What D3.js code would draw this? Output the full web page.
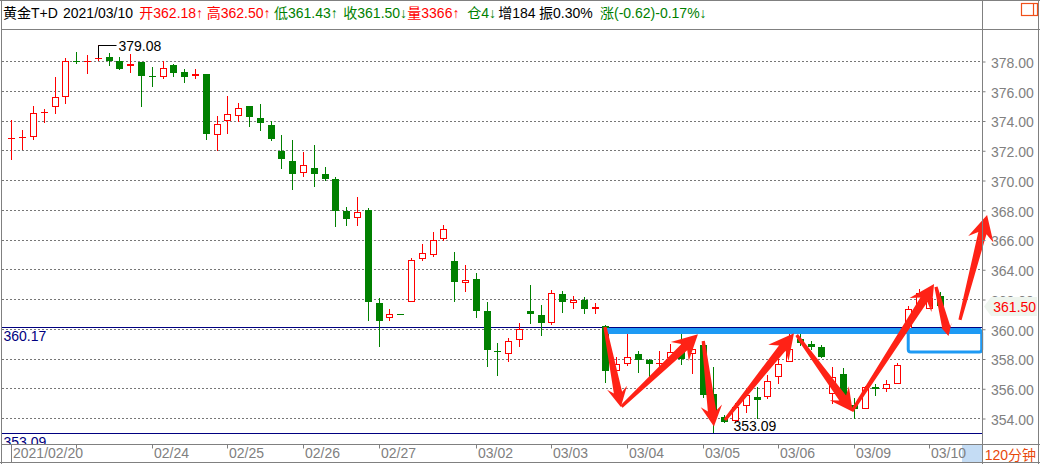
<!DOCTYPE html>
<html><head><meta charset="utf-8">
<script src="https://cdn.jsdelivr.net/npm/d3@7"></script>
<style>
body{margin:0;background:#fff;}
svg{display:block;}
text{font-family:"Liberation Sans",Arial,"Noto Sans CJK SC",sans-serif;font-size:14px;}
</style>
</head><body>
<svg id="c" width="1040" height="464"></svg>
<script>
// ---------------- data ----------------
const opens  = [372.80,372.86,372.90,374.58,374.92,375.60,378.03,378.01,378.11,378.25,
                378.00,377.64,377.93,377.00,376.94,377.73,377.26,376.97,377.12,373.00,
                373.94,374.32,374.95,374.14,373.69,371.94,371.27,370.44,370.79,370.39,
                370.05,367.90,367.47,367.97,361.75,360.74,361.01,361.82,364.71,364.98,
                366.06,364.53,363.10,363.32,361.17,358.50,358.31,359.26,361.17,360.90,
                360.40,362.31,361.75,361.91,361.35,360.17,357.16,357.60,358.28,357.88,
                357.66,358.01,358.50,358.28,358.91,355.60,354.04,353.80,354.81,355.41,
                355.39,356.73,357.79,359.29,359.00,358.75,355.61,356.96,354.85,354.63,
                356.10,355.97,356.27,360.00,361.40,361.33,362.18];
const highs  = [374.03,373.35,374.97,374.75,376.94,378.18,378.60,378.40,379.08,378.52,
                378.25,378.47,377.93,377.62,378.00,377.82,377.46,377.44,377.12,374.30,
                375.64,375.17,374.95,375.10,373.96,373.02,372.68,371.87,372.34,370.86,
                370.23,368.17,368.84,368.10,362.04,361.35,361.01,364.73,365.68,366.48,
                366.96,365.14,364.26,363.72,361.77,359.01,359.41,360.40,362.92,361.57,
                362.63,362.56,362.17,362.11,361.70,360.22,358.10,359.70,358.50,357.95,
                358.50,358.98,359.70,358.90,359.20,357.40,354.18,354.99,355.88,356.10,
                356.91,357.95,359.70,359.65,359.20,358.90,357.40,357.38,355.34,356.13,
                356.27,356.55,357.68,361.53,362.70,362.27,362.50];
const lows   = [371.38,372.09,372.77,373.91,374.52,375.15,377.85,377.17,378.08,377.75,
                377.48,377.28,374.97,376.34,376.88,377.01,376.61,376.88,372.77,372.05,
                373.17,373.94,373.64,373.37,372.68,370.81,369.40,370.28,369.60,370.03,
                366.91,366.98,366.98,360.56,358.83,360.59,361.00,361.82,364.65,364.92,
                365.95,361.89,362.53,360.78,357.48,356.88,357.82,358.83,360.38,359.57,
                360.33,361.12,361.41,361.05,361.05,356.40,356.90,357.55,357.10,356.66,
                357.10,357.90,357.60,357.00,355.39,353.09,353.70,353.75,354.38,354.02,
                355.32,356.33,357.79,358.90,358.66,358.12,355.03,354.87,354.02,354.59,
                355.57,355.80,356.27,358.60,361.30,361.30,361.43];
const closes = [372.82,372.88,374.48,374.60,375.60,378.00,378.01,378.03,378.22,378.00,
                377.48,377.80,377.01,376.98,377.51,377.17,376.94,377.10,373.10,373.74,
                374.41,374.81,374.25,373.80,372.77,371.42,370.41,370.98,370.41,370.07,
                367.92,367.38,367.88,361.79,360.51,361.01,361.00,364.65,365.12,365.99,
                366.73,363.14,363.30,361.19,358.56,358.48,359.19,360.00,360.99,360.38,
                362.42,361.79,361.95,361.32,361.48,357.15,357.60,358.10,357.93,357.60,
                357.70,358.42,357.97,358.62,355.57,354.40,353.73,354.72,355.53,355.19,
                356.51,357.61,358.66,359.06,358.79,358.12,356.78,355.10,354.59,356.06,
                355.97,356.27,357.56,361.30,362.40,362.07,361.50];

const dateTickIdx    = [0, 13, 20, 27, 34, 43, 50, 57, 64, 71, 78, 85];
const dateTickLabels = ["2021/02/20","02/24","02/25","02/26","02/27","03/02","03/03","03/04","03/05","03/06","03/09","03/10"];
const priceTicks     = [354,356,358,360,362,364,366,368,370,372,374,376,378];
const refLines       = [360.17, 353.09];
const maxMark        = {i: 8,  p: 379.08, label: "379.08"};
const minMark        = {i: 65, p: 353.09, label: "353.09"};
const lastPrice      = 361.50;
// hand-drawn annotations in (candle index, price) coordinates
const arrowTails = [[54.97,360.12],[56.50,354.76],[64.07,359.18],[66.08,353.87],[72.72,359.58],[77.84,354.47],[85.62,362.81],[87.84,360.59]];
const arrowTips  = [[56.44,354.74],[63.58,359.63],[65.06,353.43],[72.47,359.69],[77.91,354.42],[85.44,363.01],[86.78,359.51],[90.35,367.65]];
const blueLine   = [[55.13,359.85],[89.80,359.85]];
const blueBox    = [[83.05,359.90],[89.85,358.44]];
const headerParts = [
  {t:"黄金T+D",        c:"#000000"},
  {t:"2021/03/10",     c:"#000000"},
  {t:"开362.18↑",      c:"#ff0000"},
  {t:"高362.50↑",      c:"#ff0000"},
  {t:"低361.43↑",      c:"#008000"},
  {t:"收361.50↓",      c:"#008000"},
  {t:"量3366↑",        c:"#ff0000"},
  {t:"仓4↓",           c:"#008000"},
  {t:"增184",          c:"#000000"},
  {t:"振0.30%",        c:"#000000"},
  {t:"涨(-0.62)-0.17%↓", c:"#008000"}
];
const headerX = [3, 63, 139.3, 206.7, 274, 343.3, 407.3, 467.3, 498.3, 539, 600];

// ---------------- layout ----------------
const W = 1040, H = 464;
const plotL = 2, plotR = 983, plotT = 30, plotB = 444;
const svg = d3.select("#c");
const x = d3.scaleLinear().domain([0, 86]).range([11.3, 940.1]);
const y = d3.scaleLinear().domain([354, 378]).range([418, 61]);
const GRAY = "#808080", NAVY = "#000080", RED = "#ff0000", GREEN = "#008000";

svg.append("rect").attr("width", W).attr("height", H).attr("fill", "#fff");

svg.append("defs").append("clipPath").attr("id", "clip")
  .append("rect").attr("x", plotL).attr("y", plotT).attr("width", plotR - plotL).attr("height", plotB - plotT);

// grid
svg.append("g").selectAll("line").data(priceTicks).join("line")
  .attr("x1", plotL).attr("x2", plotR)
  .attr("y1", d => Math.round(y(d)) + 0.5).attr("y2", d => Math.round(y(d)) + 0.5)
  .attr("stroke", "#777").attr("stroke-dasharray", "2,2").attr("stroke-width", 1);

const pg = svg.append("g").attr("clip-path", "url(#clip)");

// reference navy lines and labels
refLines.forEach(p => {
  const yy = Math.round(y(p)) + 1.5;
  pg.append("line").attr("x1", plotL).attr("x2", plotR).attr("y1", yy).attr("y2", yy)
    .attr("stroke", NAVY).attr("stroke-width", 1);
  pg.append("text").attr("x", 3.5).attr("y", yy + 13.5).attr("fill", NAVY).text(d3.format(".2f")(p));
});

// candles
const data = opens.map((o, i) => ({i, o, h: highs[i], l: lows[i], c: closes[i]}));
data.forEach(d => {
  const cx = Math.round(x(d.i)) + 0.5;
  const up = d.c >= d.o;
  const col = up ? RED : GREEN;
  const yo = Math.round(y(d.o)), yc = Math.round(y(d.c)), yh = Math.round(y(d.h)), yl = Math.round(y(d.l));
  const top = Math.min(yo, yc), bot = Math.max(yo, yc);
  const g = pg.append("g");
  if (bot - top <= 1) {
    if (yl > yh) g.append("line").attr("x1", cx).attr("x2", cx).attr("y1", yh).attr("y2", yl + 1).attr("stroke", col);
    g.append("line").attr("x1", cx - 3.5).attr("x2", cx + 3.5).attr("y1", top + 0.5).attr("y2", top + 0.5).attr("stroke", col);
  } else if (up) {
    if (top > yh) g.append("line").attr("x1", cx).attr("x2", cx).attr("y1", yh).attr("y2", top).attr("stroke", col);
    if (yl > bot) g.append("line").attr("x1", cx).attr("x2", cx).attr("y1", bot).attr("y2", yl + 1).attr("stroke", col);
    g.append("rect").attr("x", cx - 3).attr("y", top + 0.5).attr("width", 6).attr("height", bot - top - 1)
      .attr("fill", "#fff").attr("stroke", col).attr("stroke-width", 1);
  } else {
    g.append("line").attr("x1", cx).attr("x2", cx).attr("y1", yh).attr("y2", yl + 1).attr("stroke", col);
    g.append("rect").attr("x", cx - 3.5).attr("y", top).attr("width", 7).attr("height", bot - top).attr("fill", col);
  }
});

// max / min labels
{
  const cx = Math.round(x(maxMark.i)) + 0.5;
  const d = data[maxMark.i];
  const yb = Math.round(y(Math.max(d.o, d.c)));
  const yh = Math.round(y(maxMark.p)) + 0.5;
  pg.append("polyline").attr("points", `${cx},${yb} ${cx},${yh} ${cx + 18},${yh}`)
    .attr("fill", "none").attr("stroke", "#000").attr("stroke-width", 1);
  pg.append("text").attr("x", cx + 20).attr("y", yh + 5.5).attr("fill", "#000").text(maxMark.label);
}
{
  const cx = Math.round(x(minMark.i)) + 0.5;
  const yl = Math.round(y(minMark.p)) + 0.5;
  pg.append("text").attr("x", cx + 20).attr("y", yl - 2).attr("fill", "#000").text(minMark.label);
}

// blue line and box
pg.append("line")
  .attr("x1", x(blueLine[0][0])).attr("x2", x(blueLine[1][0]))
  .attr("y1", y(blueLine[0][1])).attr("y2", y(blueLine[1][1]))
  .attr("stroke", "#1e9af4").attr("stroke-width", 6);
svg.append("rect")
  .attr("x", x(blueBox[0][0])).attr("y", y(blueBox[0][1]))
  .attr("width", x(blueBox[1][0]) - x(blueBox[0][0])).attr("height", y(blueBox[1][1]) - y(blueBox[0][1]))
  .attr("rx", 2.5).attr("fill", "none").attr("stroke", "#1e9af4").attr("stroke-width", 3);

// red arrows
function arrowPoints(x0, y0, x1, y1) {
  const dx = x1 - x0, dy = y1 - y0, L = Math.hypot(dx, dy);
  const ux = dx / L, uy = dy / L, nx = -uy, ny = ux;
  const hl = Math.min(25, L * 0.24), hw = hl * 0.52, sw = 4.2, tw = 1.6, notch = hl * 0.25;
  const bx = x1 - ux * hl, by = y1 - uy * hl;
  const kx = bx + ux * notch, ky = by + uy * notch;
  const P = [
    [x0 + nx * tw, y0 + ny * tw],
    [kx + nx * sw, ky + ny * sw],
    [bx + nx * hw, by + ny * hw],
    [x1, y1],
    [bx - nx * hw, by - ny * hw],
    [kx - nx * sw, ky - ny * sw],
    [x0 - nx * tw, y0 - ny * tw]
  ];
  return P.map(p => p.join(",")).join(" ");
}
svg.append("g").selectAll("polygon").data(arrowTails.map((t, k) => [t, arrowTips[k]])).join("polygon")
  .attr("points", d => arrowPoints(x(d[0][0]), y(d[0][1]), x(d[1][0]), y(d[1][1])))
  .attr("fill", "#ff2216");

// right axis
const yAxis = d3.axisRight(y).tickValues(priceTicks).tickSize(3).tickPadding(5.5).tickFormat(d3.format(".2f"));
const ya = svg.append("g").attr("transform", `translate(${plotR - 0.5},0.5)`).call(yAxis);
ya.select(".domain").remove();
ya.selectAll(".tick line").attr("stroke", GRAY);
ya.selectAll(".tick text").attr("fill", GRAY).attr("dy", "0.41em").style("font-size", "14px")
  .style("font-family", '"Liberation Sans",Arial,sans-serif');

// last price tag
{
  const yy = y(lastPrice);
  svg.append("polygon")
    .attr("points", `${plotR + 1},${yy} ${plotR + 8},${yy - 9.5} 1037,${yy - 9.5} 1037,${yy + 9.5} ${plotR + 8},${yy + 9.5}`)
    .attr("fill", "#eef5ee");
  svg.append("text").attr("x", 993.3).attr("y", yy + 5.5).attr("fill", RED).text(d3.format(".2f")(lastPrice));
}

// bottom axis
svg.append("rect").attr("x", 962).attr("y", plotB + 1).attr("width", plotR - 962).attr("height", 18).attr("fill", "#c4dcf4");
const xAxis = d3.axisBottom(x).tickValues(dateTickIdx).tickSize(4).tickPadding(0)
  .tickFormat((d, k) => dateTickLabels[k]);
const xa = svg.append("g").attr("transform", `translate(0.5,${plotB + 0.5})`).call(xAxis);
xa.select(".domain").remove();
xa.selectAll(".tick").attr("transform", d => `translate(${Math.round(x(d))},0)`);
xa.selectAll(".tick line").attr("stroke", GRAY);
xa.selectAll(".tick text").attr("fill", GRAY).attr("text-anchor", "start").attr("x", 1.5)
  .style("font-size", "14px").style("font-family", '"Liberation Sans",Arial,sans-serif');
svg.append("line").attr("x1", Math.round(x(0)) + 0.5).attr("x2", Math.round(x(0)) + 0.5)
  .attr("y1", plotB).attr("y2", H - 1).attr("stroke", GRAY);
svg.append("line").attr("x1", Math.round(x(6)) + 0.5).attr("x2", Math.round(x(6)) + 0.5)
  .attr("y1", plotB).attr("y2", plotB + 4.5).attr("stroke", GRAY);

svg.append("text").attr("x", 984.7).attr("y", 459.5).attr("fill", "#e8480c").text("120分钟");

// frame lines
const frame = [
  [0, 0.5, W, 0.5],
  [1.5, 0, 1.5, H],
  [W - 1.5, 0, W - 1.5, H],
  [0, H - 1.5, W, H - 1.5],
  [plotR - 0.5, 0, plotR - 0.5, H],
  [1.5, 29.5, W, 29.5],
  [1.5, plotB + 0.5, W, plotB + 0.5]
];
svg.append("g").selectAll("line").data(frame).join("line")
  .attr("x1", d => d[0]).attr("y1", d => d[1]).attr("x2", d => d[2]).attr("y2", d => d[3])
  .attr("stroke", GRAY).attr("stroke-width", 1);

// header
svg.append("g").selectAll("text").data(headerParts).join("text")
  .attr("x", (d, k) => headerX[k]).attr("y", 17.5).attr("fill", d => d.c).text(d => d.t);

// top-right icon
svg.append("rect").attr("x", 1021.5).attr("y", 3.5).attr("width", 16).attr("height", 12)
  .attr("fill", "none").attr("stroke", "#f0501a").attr("stroke-width", 1.2);
svg.append("line").attr("x1", 1033.5).attr("x2", 1033.5).attr("y1", 3.5).attr("y2", 15.5)
  .attr("stroke", "#f0501a").attr("stroke-width", 1.2);
</script>
</body></html>
